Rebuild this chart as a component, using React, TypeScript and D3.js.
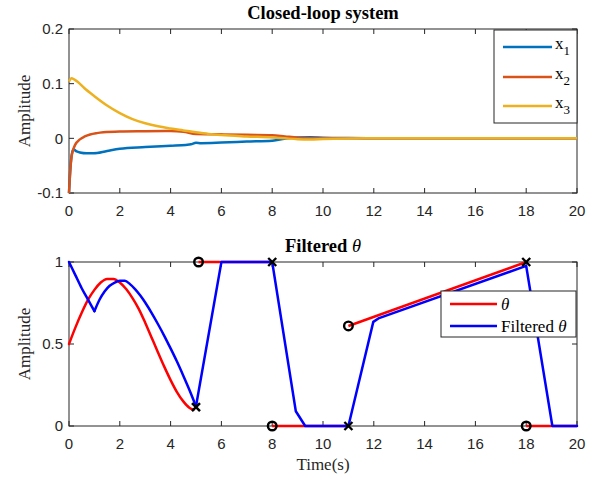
import React from "react";
import * as d3 from "d3";

// ---------- data ----------
const xTicks = [0, 2, 4, 6, 8, 10, 12, 14, 16, 18, 20];
const topYTicks = [-0.1, 0, 0.1, 0.2];
const topYTickLabels = ["-0.1", "0", "0.1", "0.2"];
const botYTicks = [0, 0.5, 1];
const botYTickLabels = ["0", "0.5", "1"];

const x1: [number, number][] = [
  [0, -0.1], [0.08, -0.04], [0.17, -0.02], [0.3, -0.024], [0.43, -0.026], [0.7, -0.0275], [0.96, -0.0275],
  [1.5, -0.023], [2, -0.019], [3, -0.016], [4, -0.0135], [4.6, -0.012], [4.8, -0.011], [5, -0.008],
  [5.2, -0.0088], [6, -0.0078], [7, -0.006], [8, -0.0044], [8.3, -0.002], [8.6, 0], [9, 0.0015],
  [9.5, 0.002], [10, 0.0012], [11, 0.0004], [12, 0], [20, 0],
];
const x2: [number, number][] = [
  [0, -0.1], [0.04, -0.065], [0.1, -0.034], [0.17, -0.02], [0.24, -0.012], [0.43, -0.002], [0.6, 0.003],
  [0.83, 0.007], [1.1, 0.0095], [1.35, 0.011], [2, 0.0125], [3, 0.013], [4, 0.0134], [4.5, 0.012],
  [5, 0.0078], [6, 0.0073], [7, 0.0065], [8, 0.0058], [8.5, 0.0035], [9, 0.0012], [9.5, 0.0003],
  [10, 0], [20, 0],
];
const x3: [number, number][] = [
  [0, 0.104], [0.1, 0.11], [0.2, 0.108], [0.35, 0.103], [0.6, 0.092], [1, 0.077], [1.5, 0.06],
  [2, 0.046], [2.5, 0.035], [3, 0.0275], [3.5, 0.022], [4, 0.018], [4.5, 0.0145], [5, 0.011],
  [5.5, 0.008], [6, 0.006], [7, 0.0035], [8, 0.0015], [8.5, 0], [9, -0.0015], [9.5, -0.002],
  [10, -0.0012], [11, -0.0003], [12, 0], [20, 0],
];

// theta (piecewise, each array one segment)
const thetaSeg1: [number, number][] = [
  [0, 0.5], [0.25, 0.6], [0.5, 0.69], [0.75, 0.77], [1.0, 0.83], [1.25, 0.875], [1.5, 0.897],
  [1.75, 0.897], [2.0, 0.875], [2.25, 0.835], [2.5, 0.78], [2.75, 0.713], [3.0, 0.63], [3.25, 0.54],
  [3.5, 0.45], [3.75, 0.362], [4.0, 0.28], [4.25, 0.207], [4.5, 0.15], [4.75, 0.11], [4.9, 0.1],
];
const thetaSeg2: [number, number][] = [[5.1, 1], [8, 1]];
const thetaSeg3: [number, number][] = [[8, 0], [11, 0]];
const thetaSeg4: [number, number][] = [[11, 0.61], [18, 1]];
const thetaSeg5: [number, number][] = [[18, 0], [20, 0]];

const filtered: [number, number][] = [
  [0, 1.0], [0.25, 0.92], [0.5, 0.84], [0.75, 0.77], [1.0, 0.7], [1.2, 0.77], [1.4, 0.82],
  [1.6, 0.855], [1.8, 0.875], [2.0, 0.885], [2.2, 0.885], [2.4, 0.865], [2.6, 0.835], [2.8, 0.797],
  [3.0, 0.753], [3.25, 0.69], [3.5, 0.622], [3.75, 0.55], [4.0, 0.473], [4.25, 0.393], [4.5, 0.307],
  [4.75, 0.217], [5.0, 0.12], [6.0, 1.0], [8.0, 1.0], [8.93, 0.09], [9.3, 0], [11.0, 0],
  [11.98, 0.635], [12.18, 0.656], [18.0, 0.976], [19.03, 0], [20, 0],
];
// times where the filtered curve has sharp corners between smooth pieces
const filteredBreaks = [1.0, 5.0];

const segStartMarkers: [number, number][] = [[5.1, 1], [8, 0], [11, 0.61], [18, 0]];
const segEndMarkers: [number, number][] = [[5.0, 0.115], [8, 1], [11, 0], [18, 1]];

// ---------- styles ----------
const AX = "#262626";
const SANS = "'Liberation Sans', Arial, Helvetica, sans-serif";
const SERIF = "'Liberation Serif', 'Times New Roman', Times, serif";
const C1 = "#0072BD";
const C2 = "#D95319";
const C3 = "#EDB120";

const W = 590;
const H = 477;
const L = 69;
const R = 577;

const xScale = d3.scaleLinear().domain([0, 20]).range([L, R]);
const yTop = d3.scaleLinear().domain([-0.1, 0.2]).range([193, 29]);
const yBot = d3.scaleLinear().domain([0, 1]).range([426, 262]);

function Frame({ y, ticks, labels }: { y: d3.ScaleLinear<number, number>; ticks: number[]; labels: string[] }) {
  const [b, t] = y.range();
  const tl = 5;
  return (
    <g>
      <rect x={L} y={t} width={R - L} height={b - t} fill="none" stroke={AX} strokeWidth={1} />
      {xTicks.map((v) => (
        <g key={"x" + v}>
          <line x1={xScale(v)} x2={xScale(v)} y1={b} y2={b - tl} stroke={AX} />
          <line x1={xScale(v)} x2={xScale(v)} y1={t} y2={t + tl} stroke={AX} />
          <text x={xScale(v)} y={b + 23} textAnchor="middle" fontFamily={SANS} fontSize={15} fill={AX}>
            {v}
          </text>
        </g>
      ))}
      {ticks.map((v, i) => (
        <g key={"y" + v}>
          <line x1={L} x2={L + tl} y1={y(v)} y2={y(v)} stroke={AX} />
          <line x1={R} x2={R - tl} y1={y(v)} y2={y(v)} stroke={AX} />
          <text x={L - 6} y={y(v)} dy="0.36em" textAnchor="end" fontFamily={SANS} fontSize={15} fill={AX}>
            {labels[i]}
          </text>
        </g>
      ))}
      <text
        transform={`translate(30,${(b + t) / 2}) rotate(-90)`}
        textAnchor="middle"
        fontFamily={SERIF}
        fontSize={17}
        fill={AX}
      >
        Amplitude
      </text>
    </g>
  );
}

export default function App() {
  const lineTop = d3
    .line<[number, number]>()
    .x((d) => xScale(d[0]))
    .y((d) => yTop(d[1]))
    .curve(d3.curveMonotoneX);
  const lineBotSmooth = d3
    .line<[number, number]>()
    .x((d) => xScale(d[0]))
    .y((d) => yBot(d[1]))
    .curve(d3.curveMonotoneX);
  const lineBot = d3
    .line<[number, number]>()
    .x((d) => xScale(d[0]))
    .y((d) => yBot(d[1]));

  const [b1, b2] = filteredBreaks;
  const fPart1 = filtered.filter((d) => d[0] <= b1);
  const fPart2 = filtered.filter((d) => d[0] >= b1 && d[0] <= b2);
  const fPart3 = filtered.filter((d) => d[0] >= b2);

  const lw = 2.5;
  return (
    <svg width={W} height={H} style={{ position: "absolute", left: 0, top: 0, background: "#fff" }}>
      <rect x={0} y={0} width={W} height={H} fill="#fff" />
      {/* ---------- top ---------- */}
      <Frame y={yTop} ticks={topYTicks} labels={topYTickLabels} />
      <path d={lineTop(x1)!} fill="none" stroke={C1} strokeWidth={lw} strokeLinejoin="round" />
      <path d={lineTop(x2)!} fill="none" stroke={C2} strokeWidth={lw} strokeLinejoin="round" />
      <path d={lineTop(x3)!} fill="none" stroke={C3} strokeWidth={lw} strokeLinejoin="round" />
      <text x={(L + R) / 2} y={19} textAnchor="middle" fontFamily={SERIF} fontSize={18.5} fontWeight="bold" fill="#000">
        Closed-loop system
      </text>
      {/* legend top */}
      <g>
        <rect x={494} y={30} width={83} height={93} fill="#fff" stroke={AX} strokeWidth={1} />
        {[
          { c: C1, s: "1", y: 47 },
          { c: C2, s: "2", y: 77 },
          { c: C3, s: "3", y: 106 },
        ].map((e) => (
          <g key={e.s}>
            <line x1={503} x2={552} y1={e.y} y2={e.y} stroke={e.c} strokeWidth={lw} />
            <text x={555} y={e.y + 2} fontFamily={SERIF} fontSize={17} fill="#000">
              x
              <tspan fontSize={13} dy={6}>
                {e.s}
              </tspan>
            </text>
          </g>
        ))}
      </g>

      {/* ---------- bottom ---------- */}
      <Frame y={yBot} ticks={botYTicks} labels={botYTickLabels} />
      <path d={lineBotSmooth(thetaSeg1)!} fill="none" stroke="#FF0000" strokeWidth={lw} strokeLinejoin="round" strokeLinecap="round" />
      {[thetaSeg2, thetaSeg3, thetaSeg4, thetaSeg5].map((s, i) => (
        <path key={i} d={lineBot(s)!} fill="none" stroke="#FF0000" strokeWidth={lw} strokeLinejoin="round" />
      ))}
      <path d={lineBotSmooth(fPart1)!} fill="none" stroke="#0000FF" strokeWidth={lw} strokeLinecap="round" />
      <path d={lineBotSmooth(fPart2)!} fill="none" stroke="#0000FF" strokeWidth={lw} strokeLinecap="round" />
      <path d={lineBot(fPart3)!} fill="none" stroke="#0000FF" strokeWidth={lw} strokeLinejoin="round" strokeLinecap="round" />
      {segStartMarkers.map((m, i) => (
        <circle key={"o" + i} cx={xScale(m[0])} cy={yBot(m[1])} r={4.3} fill="none" stroke="#000" strokeWidth={2.4} />
      ))}
      {segEndMarkers.map((m, i) => {
        const cx = xScale(m[0]);
        const cy = yBot(m[1]);
        const k = 4;
        return (
          <g key={"x" + i} stroke="#000" strokeWidth={2.4}>
            <line x1={cx - k} y1={cy - k} x2={cx + k} y2={cy + k} />
            <line x1={cx - k} y1={cy + k} x2={cx + k} y2={cy - k} />
          </g>
        );
      })}
      <text x={(L + R) / 2} y={252} textAnchor="middle" fontFamily={SERIF} fontSize={18.5} fontWeight="bold" fill="#000">
        Filtered <tspan fontStyle="italic" fontWeight="normal">θ</tspan>
      </text>
      <text x={(L + R) / 2} y={470} textAnchor="middle" fontFamily={SERIF} fontSize={17} fill={AX}>
        Time(s)
      </text>
      {/* legend bottom */}
      <g>
        <rect x={441} y={291} width={135} height={46} fill="#fff" stroke={AX} strokeWidth={1} />
        <line x1={450} x2={497} y1={304} y2={304} stroke="#FF0000" strokeWidth={lw} />
        <text x={501} y={310} fontFamily={SERIF} fontSize={17} fill="#000" fontStyle="italic">
          θ
        </text>
        <line x1={450} x2={497} y1={326} y2={326} stroke="#0000FF" strokeWidth={lw} />
        <text x={501} y={332} fontFamily={SERIF} fontSize={17} fill="#000">
          Filtered <tspan fontStyle="italic">θ</tspan>
        </text>
      </g>
    </svg>
  );
}
